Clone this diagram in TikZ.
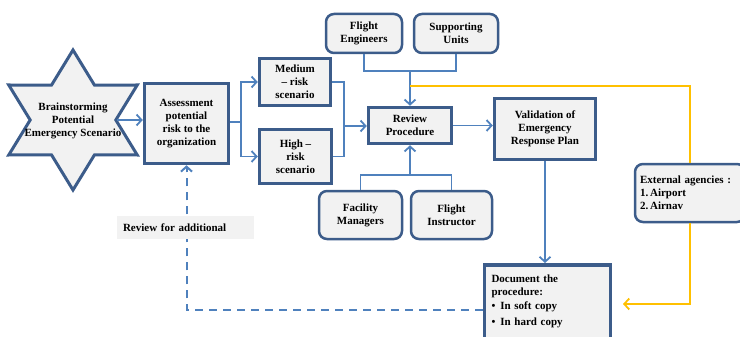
\documentclass[tikz,border=0pt]{standalone}
\usepackage{fontspec}
\setmainfont{Liberation Serif}
\usetikzlibrary{arrows.meta,calc}
\definecolor{bdr}{RGB}{60,92,138}
\definecolor{lblue}{RGB}{79,129,189}
\definecolor{boxfill}{RGB}{242,242,242}
\definecolor{yel}{RGB}{255,192,0}
\tikzset{
  mainbox/.style={draw=bdr, line width=3.5pt, fill=boxfill, align=center, inner sep=2pt,
    font=\fontsize{11}{12.8}\selectfont\bfseries},
  rbox/.style={draw=bdr, line width=2.5pt, fill=boxfill, rounded corners=8pt, align=center, inner sep=2pt,
    font=\fontsize{11}{12.8}\selectfont\bfseries},
  conn/.style={draw=lblue, line width=1.8pt},
  arr/.style={conn, -{Straight Barb[length=5pt,width=11pt,line width=1.8pt]}},
  yline/.style={draw=yel, line width=1.8pt},
  yarr/.style={yline, -{Straight Barb[length=5pt,width=11pt,line width=1.8pt]}},
  dasharr/.style={conn, line width=2pt, dash pattern=on 8pt off 6pt, -{Straight Barb[length=5pt,width=11pt,line width=2pt]}},
}
\begin{document}
\begin{tikzpicture}[x=1pt,y=-1pt]
\useasboundingbox (0,0) rectangle (740,337);
% star
\draw[draw=bdr, line width=3pt, fill=boxfill, shift={(73,120)}, xscale=1.06]
  (90:70) -- (60:40.4) -- (30:70) -- (0:40.4) -- (-30:70) -- (-60:40.4) -- (-90:70)
  -- (-120:40.4) -- (-150:70) -- (180:40.4) -- (150:70) -- (120:40.4) -- cycle;
\node[align=center, font=\fontsize{11}{12.8}\selectfont\bfseries] (star) at (73,121)
  {Brainstorming\\Potential\\Emergency Scenario};
\coordinate (stare) at (117,120);
% boxes
\node[mainbox, minimum width=84pt, minimum height=80pt] (assess) at (186.5,123.5)
  {Assessment\\potential\\risk to the\\organization};
\node[mainbox, minimum width=71pt, minimum height=47pt] (medium) at (295,82)
  {Medium\\– risk\\scenario};
\node[mainbox, minimum width=72pt, minimum height=54pt] (high) at (295.5,156.5)
  {High –\\risk\\scenario};
\node[mainbox, minimum width=83pt, minimum height=36pt] (review) at (410,125.5)
  {Review\\Procedure};
\node[mainbox, minimum width=101pt, minimum height=61pt] (valid) at (545,129)
  {Validation of\\Emergency\\Response Plan};
\node[rbox, minimum width=76pt, minimum height=39pt] (fe) at (364,33.5)
  {Flight\\Engineers};
\node[rbox, minimum width=84pt, minimum height=39pt] (su) at (456,33.5)
  {Supporting\\Units};
\node[rbox, minimum width=83pt, minimum height=48pt] (fm) at (360.5,215)
  {Facility\\Managers};
\node[rbox, minimum width=81pt, minimum height=48pt] (fi) at (451.5,215)
  {Flight\\Instructor};
\node[mainbox, anchor=north, align=left, text width=112pt, inner sep=7pt, minimum width=126pt,
  text height=11pt, text depth=72pt, font=\fontsize{11}{12.5}\selectfont\bfseries] (doc) at (547.5,263)
  {Document the\\procedure:\\[2pt] \textbullet\hspace{5pt}In soft copy\\[3pt] \textbullet\hspace{5pt}In hard copy};
\node[rbox, align=left, text width=100pt, inner sep=5pt, minimum width=108pt, minimum height=58pt,
  font=\fontsize{11}{13}\selectfont\bfseries] (ext) at (690,193)
  {External agencies :\\1.\,Airport\\2.\,Airnav};
\coordinate (docin) at (483,310);
\coordinate (ydoc) at (623,304);
% connectors
\draw[arr] (stare) -- (stare -| assess.west);
\coordinate (sp) at (241,122);
\draw[conn] (assess.east |- sp) -- (sp);
\draw[arr] (sp) |- (medium.west);
\draw[arr] (sp) |- (high.west);
\coordinate (mg) at (344,126);
\draw[conn] (medium.east) -| (mg);
\draw[conn] (high.east) -| (mg);
\draw[arr] (mg) -- (mg -| review.west);
\coordinate (tj) at ($(review.north)+(0,-35)$);
\draw[conn] (fe.south) |- (tj);
\draw[conn] (su.south) |- (tj);
\draw[arr] (tj) -- (review.north);
\coordinate (bj) at ($(review.south)+(0,30)$);
\draw[conn] (fm.north) |- (bj);
\draw[conn] (fi.north) |- (bj);
\draw[arr] (bj) -- (review.south);
\draw[arr] (review.east) -- (review.east -| valid.west);
\draw[arr] (valid.south) -- (valid.south |- doc.north);
\coordinate (yj) at ($(tj)+(0,15)$);
\draw[yline] (yj) -| (ext.north);
\draw[yarr] (ext.south) |- (ydoc);
\draw[dasharr] (doc.west |- docin) -| (assess.south);
\node[fill=boxfill, minimum width=137pt, minimum height=23pt, text width=125pt, align=left,
  font=\fontsize{11}{12}\selectfont\bfseries] (lbl) at (185.5,227.5) {Review for additional};
\end{tikzpicture}
\end{document}
